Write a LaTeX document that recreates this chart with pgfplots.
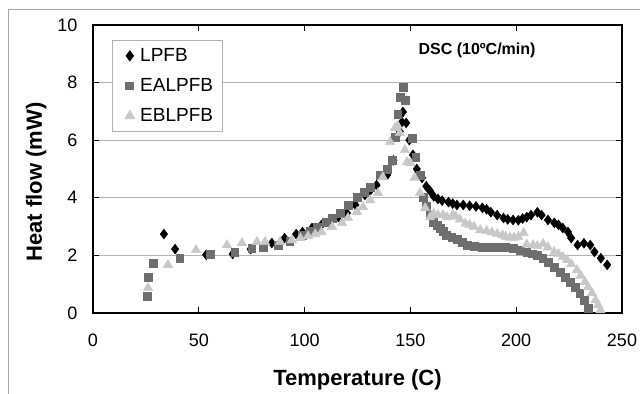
\documentclass[border=0pt]{standalone}
\usepackage{fontspec}
\setmainfont{Liberation Sans}
\usepackage{pgfplots}
\pgfplotsset{compat=1.18}
\definecolor{sqgray}{HTML}{6E6E6E}
\definecolor{trigray}{HTML}{C8C8C8}
\definecolor{gridgray}{HTML}{B4B4B4}
\begin{document}
\begin{tikzpicture}
\path[use as bounding box] (0,0) rectangle (640bp,394bp);
\draw[draw=gray!70, line width=0.8bp] (8bp,0) -- (8bp,385bp) -- (640bp,385bp);
\begin{axis}[
  at={(93bp,81bp)}, anchor=south west,
  scale only axis, width=529bp, height=288bp,
  xmin=0, xmax=250, ymin=0, ymax=10,
  xtick={0,50,...,250}, ytick={0,2,...,10},
  tick align=inside, major tick length=6bp,
  every tick/.style={black, line width=1.2bp},
  axis line style={black, line width=1.6bp},
  ymajorgrids, major grid style={draw=gridgray, line width=0.9bp},
  /pgf/number format/assume math mode=true,
  tick label style={font=\fontsize{18bp}{21bp}\selectfont},
  yticklabel style={xshift=-12bp},
  xticklabel style={yshift=-17bp},
  xlabel={\textbf{Temperature (C)}},
  ylabel={\textbf{Heat flow (mW)}},
  label style={font=\fontsize{22bp}{25bp}\selectfont},
  xlabel style={at={(axis description cs:0.5,0)}, anchor=base, yshift=-72bp},
  ylabel style={at={([xshift=-51bp]axis description cs:0,0.455)}, anchor=base},
  legend style={at={(0.0359,0.948)}, anchor=north west,
    draw=gray!60, line width=0.8bp, fill=white,
    font=\fontsize{19bp}{22bp}\selectfont,
    inner xsep=7bp, inner ysep=4bp, row sep=7bp, column sep=3bp,
    nodes={inner sep=2bp, text height=15bp, text depth=4bp}},
  legend cell align=left,
  legend image code/.code={\path (0bp,0bp) (15bp,0bp); \draw[#1] plot coordinates {(10bp,0bp)};},
  clip=false,
]
\addplot[only marks, mark=diamond*, mark size=5bp, black, mark options={fill=black, draw=black}] coordinates {
(33.5,2.74) (38.8,2.22) (53.5,2.02) (66,2.05) (74.5,2.22) (84.5,2.43) (90.5,2.6) (96,2.74) (99,2.81) (103.5,2.95) (108,3.06) (112,3.2) (116,3.33) (120,3.47) (124,3.75) (128.5,4.1) (131,4.25) (134,4.44) (139,4.79) (142,5.3) (145,6.3) (146,6.63) (146.5,6.98) (148,6.6) (149.5,6.0) (151.2,5.49) (153,5.0) (155.5,4.69) (157.5,4.4) (159.3,4.24) (161,4.05) (163,3.96) (165,3.9) (168,3.85) (170,3.8) (172,3.75) (175,3.75) (178,3.72) (181,3.7) (184,3.65) (186,3.6) (188,3.5) (191,3.4) (194,3.3) (196,3.25) (198.5,3.23) (201,3.22) (203,3.28) (205,3.33) (207,3.4) (210,3.5) (212,3.4) (215,3.23) (218,3.13) (220,3.06) (222,2.95) (224.5,2.81) (226,2.6) (229,2.36) (232,2.42) (235,2.36) (237,2.12) (240,1.9) (243,1.67)
};
\addlegendentry{LPFB}
\addplot[only marks, mark=square*, mark size=3.9bp, mark options={fill=sqgray, draw=sqgray}] coordinates {
(25.5,0.59) (26,1.25) (28.4,1.74) (41,1.91) (55.3,2.05) (67,2.12) (75,2.26) (80.3,2.29) (87.4,2.36) (93,2.5) (99,2.7) (102.5,2.85) (106,2.99) (110,3.15) (113,3.3) (116.7,3.47) (120.5,3.75) (125,4.03) (128,4.2) (131,4.38) (135.6,4.79) (139,5.0) (141.3,5.31) (142.7,6.1) (144,6.9) (145,7.5) (146.5,7.85) (147.4,7.4) (150.7,6.08) (152.5,5.4) (154.5,4.79) (156,4.03) (157.5,3.7) (159.3,3.4) (160.7,3.16) (162.5,3.05) (164,2.95) (165.5,2.83) (167,2.71) (169.5,2.62) (172,2.57) (174.5,2.45) (176.7,2.36) (180,2.32) (184,2.29) (187.5,2.29) (191,2.29) (195,2.28) (198.5,2.26) (201.8,2.19) (205,2.12) (207.5,2.06) (210,2.01) (212.5,1.9) (215,1.77) (218,1.6) (220.7,1.42) (223,1.25) (225.4,1.08) (228,0.9) (230,0.69) (232,0.45) (234,0.17)
};
\addlegendentry{EALPFB}
\addplot[only marks, mark=triangle*, mark size=5.5bp, mark options={fill=trigray, draw=trigray}] coordinates {
(26,0.87) (35.4,1.67) (48.7,2.19) (63.3,2.36) (70.4,2.43) (77.5,2.47) (81.3,2.47) (88.4,2.47) (94,2.53) (98,2.6) (101.6,2.67) (105,2.74) (108,2.81) (113,2.99) (117.7,3.13) (120.5,3.3) (124.8,3.51) (127.6,3.68) (131,3.92) (134.7,4.17) (137,4.72) (140.4,5.94) (142.7,6.42) (144,6.5) (145,6.25) (147.4,5.66) (148.4,5.24) (150,5.2) (152,4.7) (154.5,4.17) (157,3.65) (159.3,3.33) (161,3.45) (163,3.4) (165.4,3.4) (167.3,3.33) (170,3.4) (171.5,3.35) (173.4,3.25) (176,3.1) (178,3.06) (180,3.0) (183,2.88) (186,2.85) (188.5,2.8) (191,2.75) (193.5,2.7) (195,2.65) (197,2.62) (199,2.62) (201,2.65) (203.5,2.78) (205,2.38) (208,2.36) (210,2.33) (212.7,2.4) (215,2.28) (218,2.12) (220,2.05) (222,1.95) (224,1.84) (226,1.7) (228.7,1.49) (230.5,1.3) (232.5,1.08) (234,0.9) (235.8,0.69) (237.5,0.45) (238.7,0.28) (239.8,0.1)
};
\addlegendentry{EBLPFB}
\node[font=\fontsize{16bp}{19bp}\selectfont\bfseries, anchor=center] at (axis cs:181.5,9.13) {DSC (10ºC/min)};
\end{axis}
\end{tikzpicture}
\end{document}
